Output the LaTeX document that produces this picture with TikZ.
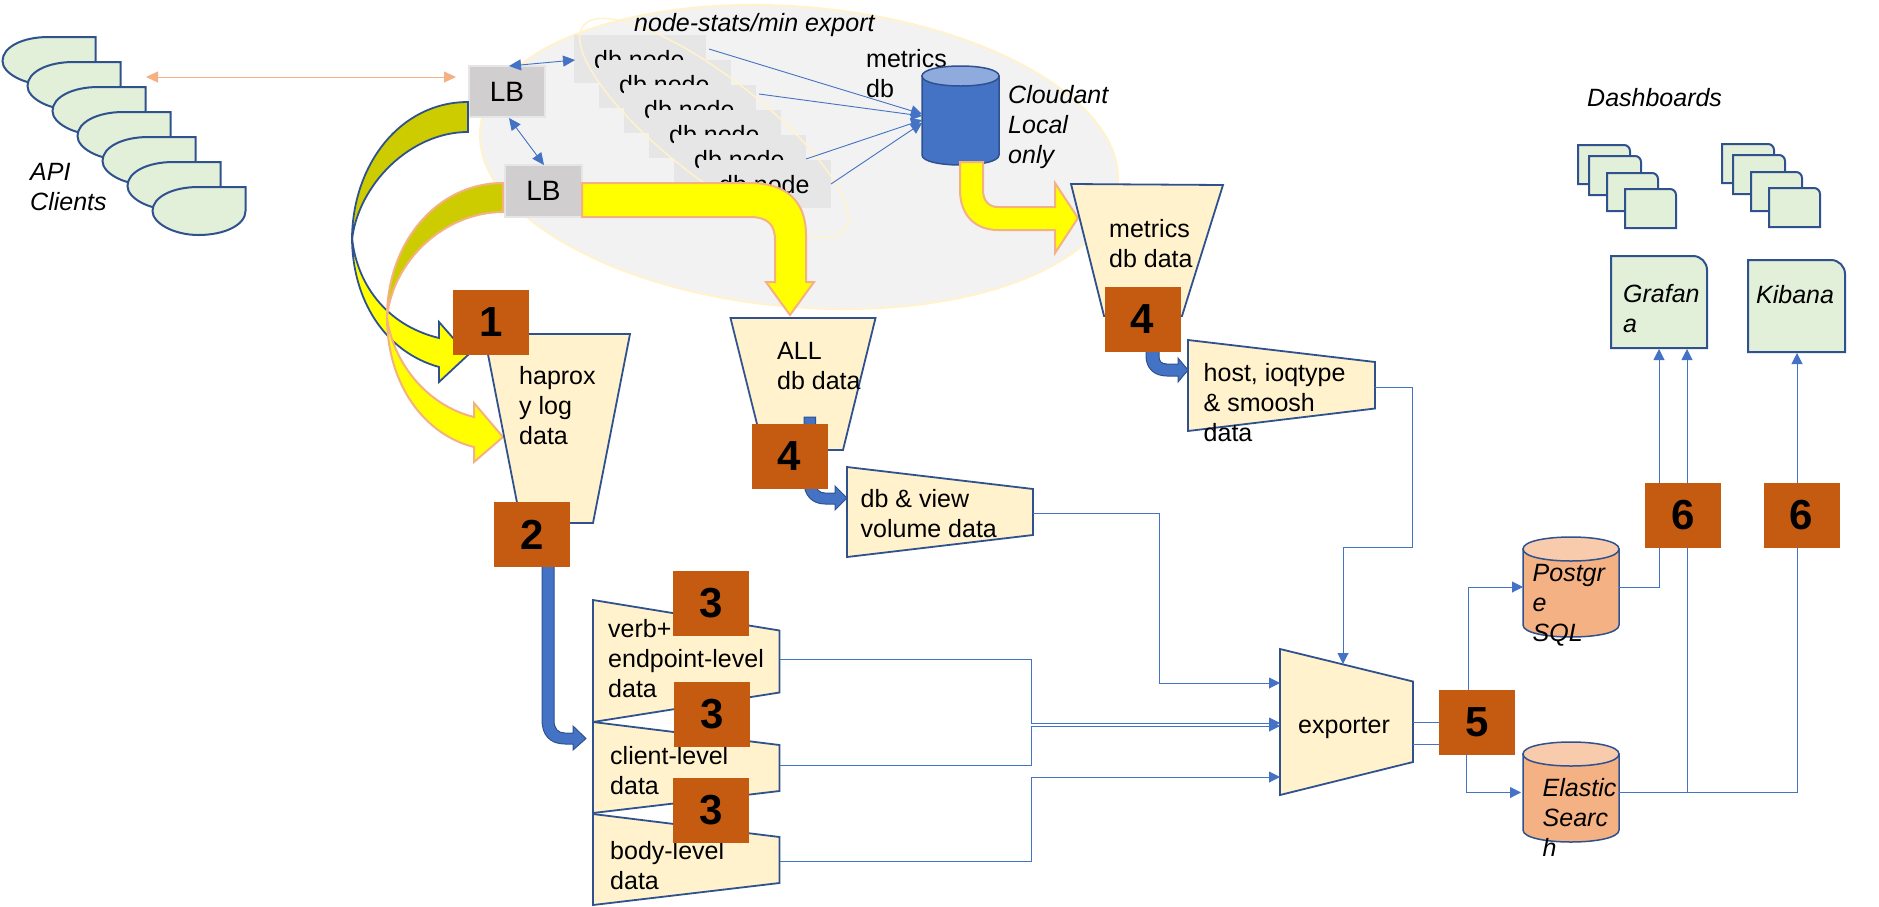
\documentclass[tikz,border=0pt]{standalone}
\usepackage{fontspec}
\setmainfont{Liberation Sans}
\usetikzlibrary{arrows.meta}
\definecolor{bord}{HTML}{2F528F}
\definecolor{blu}{HTML}{4472C4}
\definecolor{cream}{HTML}{FFF2CC}
\definecolor{mint}{HTML}{E2F0D9}
\definecolor{org}{HTML}{F4B183}
\definecolor{orgl}{HTML}{F8CBAD}
\definecolor{rust}{HTML}{C55A11}
\definecolor{olive}{HTML}{CCCC00}
\definecolor{yel}{HTML}{FFFF00}
\definecolor{lbgrey}{HTML}{D0CECE}
\definecolor{nodegrey}{HTML}{E7E6E6}
\definecolor{ellgrey}{HTML}{F2F2F2}
\tikzset{
  lbl/.style={font=\fontsize{25}{30}\selectfont,align=left,anchor=west,inner sep=0pt},
  ilbl/.style={lbl,font=\fontsize{25}{30}\selectfont\itshape},
  trap/.style={draw=bord,fill=cream,line width=1.8pt,line join=miter},
  mint box/.style={draw=bord,fill=mint,line width=2pt},
  cyl/.style={draw=bord,line width=1.5pt},
  badge/.style={fill=rust,minimum width=76pt,minimum height=65pt,inner sep=0pt,font=\fontsize{42}{42}\selectfont\bfseries},
  lbbox/.style={draw=nodegrey,fill=lbgrey,line width=2pt,inner sep=0pt,font=\fontsize{28}{30}\selectfont},
  dbbox/.style={fill=nodegrey,minimum width=132pt,minimum height=48pt,inner sep=0pt},
  conn/.style={draw=blu,line width=0.9pt,-{Triangle[length=11pt,width=11pt]}},
  dbl/.style={draw=blu,line width=0.9pt,{Triangle[length=12pt,width=11pt]}-{Triangle[length=12pt,width=11pt]}},
  yarrow/.style={fill=yel,draw=org,line width=2pt,line join=miter},
  yarrowb/.style={fill=yel,draw=bord,line width=1.8pt,line join=miter},
  barrow/.style={fill=blu,draw=bord,line width=1pt},
}
% name, x1, x2, top, bottom, ry, body fill, cap fill
\newcommand{\cylshape}[8]{%
  \pgfmathsetmacro{\ya}{#4+#6}\pgfmathsetmacro{\yb}{#5-#6}%
  \pgfmathsetmacro{\yc}{#5+#6/3}\pgfmathsetmacro{\yd}{#4-#6/3}\pgfmathsetmacro{\ye}{#4+2*#6+#6/3}%
  \draw[cyl,fill=#7] (#2,\ya) -- (#2,\yb) .. controls (#2,\yc) and (#3,\yc) .. (#3,\yb) -- (#3,\ya) -- cycle;
  \draw[cyl,fill=#8] (#2,\ya) .. controls (#2,\yd) and (#3,\yd) .. (#3,\ya) .. controls (#3,\ye) and (#2,\ye) .. (#2,\ya) -- cycle;
}
% x1,y1,x2,y2,radius : box with one rounded corner at the top right
\newcommand{\dashdoc}[5]{%
  \draw[mint box] (#1,#2) -- (#3-#5,#2) .. controls (#3-0.45*#5,#2) and (#3,#2+0.45*#5) .. (#3,#2+#5) -- (#3,#4) -- (#1,#4) -- cycle;
}
\begin{document}
\begin{tikzpicture}[x=1pt,y=-1pt]
\useasboundingbox (0,0) rectangle (1879,906);

% cluster ellipse
\draw[draw=cream,fill=ellgrey,line width=2pt,shift={(799,157)},rotate=-5] (0,0) ellipse [x radius=320pt,y radius=150pt];

% API clients
\foreach \i in {0,...,6}{
  \begin{scope}[shift={(2.5+25*\i,37+25*\i)}]
    \draw[mint box] (93,0) -- (93,24) .. controls (93,38) and (72,48) .. (46,48) .. controls (21,48) and (0,36) .. (0,24) .. controls (0,10) and (20,0) .. (46,0) -- cycle;
  \end{scope}
}
\node[ilbl] (api) at (30,187) {API\\Clients};

% db nodes
\foreach \i in {0,...,5}{
  \node[dbbox] (dbn\i) at (640+25*\i,59+25*\i) {};
  \node[font=\fontsize{25}{30}\selectfont,anchor=base west,inner sep=0pt] (dbt\i) at (594+25*\i,68+25*\i) {db node};
}
\draw[cream,line width=1.5pt,shift={(714,128)},rotate=-38] (0,0) ellipse [x radius=166pt,y radius=50pt];

% load balancers
\node[lbbox,minimum width=76pt,minimum height=51pt] (lb1) at (507,91.5) {LB};
\node[lbbox,minimum width=77pt,minimum height=52pt] (lb2) at (543.5,191) {LB};
\node[font=\fontsize{25}{30}\selectfont\itshape,anchor=west,inner sep=0pt] (stats) at (634,25) {node-stats/min export};
\node[lbl] (metricslbl) at (866,74) {metrics\\db};
\node[ilbl] (cloudant) at (1008,127) {Cloudant\\Local\\only};

% metrics db cylinder
\cylshape{mdb}{922}{999}{66}{165}{10}{blu}{blu!60!white}

% thin arrows
\coordinate (api r) at (146,77);
\coordinate (lb1 l) at (456,77);
\draw[draw=org,line width=1pt,{Triangle[length=12pt,width=11pt]}-{Triangle[length=12pt,width=11pt]}] (api r) -- (lb1 l);
\coordinate (lb1 t) at (509,66); \coordinate (dbn0 l) at (575,60);
\draw[dbl] (lb1 t) -- (dbn0 l);
\coordinate (lb1 b) at (509,118); \coordinate (lb2 t) at (544,165);
\draw[dbl] (lb1 b) -- (lb2 t);
\coordinate (n1) at (709,49); \coordinate (n2) at (759,94); \coordinate (n3) at (806,159); \coordinate (n4) at (831,184);
\coordinate (m1) at (922,114); \coordinate (m2) at (922,116); \coordinate (m3) at (922,120); \coordinate (m4) at (922,123);
\foreach \a/\b in {n1/m1,n2/m2,n3/m3,n4/m4} \draw[conn] (\a) -- (\b);

% curved arrow from LB 1
\draw[yarrowb,fill=olive] (468,102) .. controls (400,102) and (352,165) .. (352,240) .. controls (358,185) and (410,132) .. (468,132) -- cycle;
\draw[yarrowb] (352,237) .. controls (356,282) and (385,325) .. (439,338) -- (439,322) -- (468,355) -- (439,382) -- (439,367) .. controls (385,352) and (352,300) .. (352,237) -- cycle;
% curved arrow from LB 2
\draw[yarrow,fill=olive] (503,183) .. controls (435,183) and (387,245) .. (387,317) .. controls (393,260) and (445,212) .. (503,212) -- cycle;
\draw[yarrow] (387,317) .. controls (392,360) and (425,405) .. (474,417) -- (474,403) -- (503,437) -- (474,462) -- (474,447) .. controls (425,435) and (387,385) .. (387,317) -- cycle;

% yellow bent arrow: LB 2 to ALL data
\draw[yarrow] (582,183) -- (750,183) .. controls (785,183) and (806,200) .. (806,235) -- (806,282) -- (814,282) -- (790,315) -- (766,282) -- (775,282) -- (775,240) .. controls (775,225) and (768,217) .. (750,217) -- (582,217) -- cycle;
% yellow bent arrow: metrics db to metrics data
\draw[yarrow] (960,162) -- (983,162) -- (983,190) .. controls (983,201) and (989,207) .. (998,207) -- (1055,207) -- (1055,183) -- (1078,218) -- (1055,253) -- (1055,230) -- (998,230) .. controls (975,230) and (960,215) .. (960,190) -- cycle;

% data trapezoids
\draw[trap] (484,334) -- (630,334) -- (593,523) -- (521,523) -- cycle;
\node[lbl] (hap) at (519,406) {haprox\\y log\\data};
\draw[trap] (730.5,318) -- (875.5,318) -- (843,450) -- (763.5,450) -- cycle;
\node[lbl] (alldb) at (777,366) {ALL\\db data};
\draw[trap] (1071,184) -- (1223,185) -- (1182,316) -- (1104,316) -- cycle;
\node[lbl] (mdata) at (1109,243.5) {metrics\\db data};

% blue bent arrows
\draw[barrow] (804,417) -- (815.5,417) -- (815.5,482) .. controls (815.5,489) and (819,493) .. (825,493) -- (835,493) -- (835,486) -- (847,498) -- (835,510) -- (835,504) -- (825,504) .. controls (812,504) and (804,495) .. (804,482) -- cycle;
\draw[barrow] (1146,340) -- (1159,340) -- (1159,356) .. controls (1159,361) and (1161,364) .. (1167,364) -- (1178,364) -- (1178,358) -- (1188,370) -- (1178,382) -- (1178,376) -- (1167,376) .. controls (1154,376) and (1146,368) .. (1146,356) -- cycle;
\draw[barrow] (542,560) -- (554,560) -- (554,720) .. controls (554,729) and (558,733) .. (565,733) -- (573,733) -- (573,726) -- (586,738.5) -- (573,750) -- (573,744) -- (565,744) .. controls (550,744) and (542,735) .. (542,720) -- cycle;

% lower trapezoids
\draw[trap] (847,467) -- (1033,489) -- (1033,535) -- (847,557) -- cycle;
\node[lbl] (dbview) at (860.5,514) {db \& view\\volume data};
\draw[trap] (1188,340) -- (1375,362) -- (1375,408.5) -- (1188,431) -- cycle;
\node[lbl] (hostd) at (1203.5,402.5) {host, ioqtype\\\& smoosh\\data};
\draw[trap] (593,600) -- (779.5,630.5) -- (779.5,692.5) -- (593,722) -- cycle;
\node[lbl] (verb) at (608,659) {verb+\\endpoint-level\\data};
\draw[trap] (593,722) -- (779.5,745) -- (779.5,791) -- (593,813) -- cycle;
\node[lbl] (client) at (610,771) {client-level\\data};
\draw[trap] (593,814) -- (779.5,837) -- (779.5,883) -- (593,905) -- cycle;
\node[lbl] (body) at (610,866) {body-level\\data};
\draw[trap] (1280,649) -- (1413,681.5) -- (1413,762) -- (1280,795) -- cycle;
\node[lbl] (exp) at (1298,728) {exporter};

% stores
\cylshape{pg}{1523}{1619}{537}{637}{12}{org}{orgl}
\node[ilbl] (pgt) at (1532.5,605) {Postgr\\e\\SQL};
\cylshape{es}{1523}{1619}{742}{842}{12}{org}{orgl}
\node[ilbl] (est) at (1542.5,817) {Elastic\\Searc\\h};

% connectors to exporter
\coordinate (verb o) at (779.5,659); \coordinate (client o) at (779.5,765); \coordinate (body o) at (779.5,861);
\coordinate (view o) at (1033,513); \coordinate (host o) at (1375,387);
\coordinate (exp a) at (1280,683); \coordinate (exp b) at (1280,723); \coordinate (exp c) at (1280,726); \coordinate (exp d) at (1280,777);
\coordinate (exp t) at (1343,664);
\draw[conn] (view o) -- ++(126,0) |- (exp a);
\draw[conn] (verb o) -- ++(251.5,0) |- (exp b);
\draw[conn] (client o) -- ++(251.5,0) |- (exp c);
\draw[conn] (body o) -- ++(251.5,0) |- (exp d);
\draw[conn] (host o) -- ++(37.5,0) -- ++(0,160) -| (exp t);
% connectors out of exporter
\coordinate (exp o1) at (1413,722.5); \coordinate (exp o2) at (1413,744);
\coordinate (pg in) at (1523,587); \coordinate (es in) at (1521,792.5);
\draw[conn] (exp o1) -| (1468.5,650) |- (pg in);
\draw[conn] (exp o2) -| (1466,770) |- (es in);
% connectors to dashboards
\coordinate (pg o) at (1619,587); \coordinate (es o) at (1619,792);
\coordinate (gr a) at (1659,349); \coordinate (gr b) at (1687,349); \coordinate (kb a) at (1797,353);
\draw[conn] (pg o) -| (gr a);
\draw[conn] (es o) -| (gr b);
\draw[conn] (es o) -| (kb a);

% dashboards
\node[font=\fontsize{25}{30}\selectfont\itshape,anchor=west,inner sep=0pt] (dash) at (1587,98) {Dashboards};
\dashdoc{1578}{145}{1630}{184}{6}
\dashdoc{1589}{156}{1641}{195}{6}
\dashdoc{1607}{173}{1658}{211}{6}
\dashdoc{1625}{189}{1676}{228}{6}
\dashdoc{1722}{144}{1774}{183}{6}
\dashdoc{1733}{155}{1785}{194}{6}
\dashdoc{1751}{172}{1802}{211}{6}
\dashdoc{1769}{188}{1820}{227}{6}
\dashdoc{1611}{256}{1707}{348}{14}
\node[ilbl] (graf) at (1623,308.5) {Grafan\\a};
\dashdoc{1748}{260}{1845}{352}{14}
\node[ilbl] (kib) at (1756,295) {Kibana};

% badges
\node[badge] (b1) at (491,322.5) {1};
\node[badge] (b2) at (532,534.5) {2};
\node[badge] (b3a) at (711,603) {3};
\node[badge] (b3b) at (712,714.5) {3};
\node[badge] (b3c) at (711,810.5) {3};
\node[badge] (b4a) at (789.5,456.5) {4};
\node[badge] (b4b) at (1142.5,319) {4};
\node[badge] (b5) at (1477,722.5) {5};
\node[badge] (b6a) at (1683,515.5) {6};
\node[badge] (b6b) at (1801.5,515.5) {6};
\end{tikzpicture}
\end{document}
